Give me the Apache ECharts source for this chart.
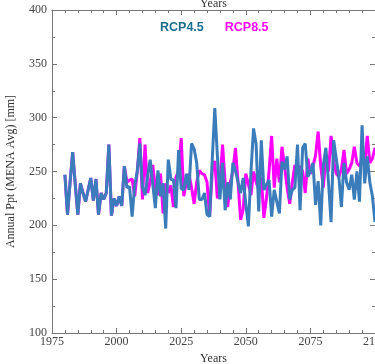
<!DOCTYPE html>
<html><head><meta charset="utf-8">
<script src="https://cdn.jsdelivr.net/npm/echarts@6/dist/echarts.min.js"></script>
<style>html,body{margin:0;padding:0;background:#fff}#c{width:375px;height:364px}</style>
</head><body><div id="c"></div>
<script>
const years = [];
for (let y = 1980; y <= 2100; y++) years.push(y);

const rcp45 = [
247,210,240,268,238,210,239,230,222,233,
244,223,243,210,230,224,230,275,209,225,
218,227,218,255,235,236,208,237,250,276,
236,228,245,261,238,216,251,227,239,197,
261,243,242,216,270,234,233,248,233,276,
271,258,224,224,230,210,208,260,309,265,
224,258,214,240,224,258,251,240,230,244,
220,199,250,290,275,213,279,233,238,242,
208,233,222,211,259,252,264,224,233,235,
275,214,272,276,245,250,258,219,241,200,
256,272,240,203,279,262,245,217,258,240,
233,247,224,250,222,293,239,264,240,227,
203];

const rcp85 = [
247,210,240,268,238,210,239,230,222,233,
244,223,243,210,230,224,230,275,209,225,
218,227,218,255,240,242,243,227,250,281,
224,275,230,240,256,235,228,248,211,239,
230,237,217,245,250,281,227,240,248,235,
220,240,251,248,247,240,208,250,260,225,
240,275,240,217,240,250,272,240,205,215,
248,238,228,250,240,233,245,207,225,250,
283,235,262,240,273,255,235,220,240,256,
250,255,250,230,262,248,255,265,287,255,
235,265,250,283,260,248,245,252,270,248,
252,258,273,258,255,262,256,283,258,262,
272];

const seriesNames = ['RCP4.5', 'RCP8.5'];
const xTicks = [1975, 2000, 2025, 2050, 2075, 2100];

const chart = echarts.init(document.getElementById('c'));
const serif = '"Liberation Serif", "DejaVu Serif", serif';
const axisCommon = {
  axisLine: {show: true, lineStyle: {color: '#777', width: 1}},
  axisTick: {show: true, inside: true, length: 5, lineStyle: {color: '#777'}},
  minorTick: {show: true, splitNumber: 5, length: 3, lineStyle: {color: '#777'}},
  splitLine: {show: false}
};
chart.setOption({
  animation: false,
  backgroundColor: '#fff',
  grid: {left: 52, right: 0, top: 10, bottom: 31, containLabel: false, outerBoundsMode: 'none'},
  legend: {
    top: 16, left: 150, itemGap: 16, itemWidth: 0, itemHeight: 0,
    selectedMode: false,
    data: [
      {name: 'RCP4.5', icon: 'none', textStyle: {color: '#1b6f8e'}},
      {name: 'RCP8.5', icon: 'none', textStyle: {color: '#ff00ff'}}
    ],
    textStyle: {fontFamily: '"Liberation Sans", Arial, sans-serif', fontWeight: 'bold', fontSize: 12.5}
  },
  xAxis: [
    Object.assign({}, axisCommon, {
      type: 'value', min: 1975, max: 2100, interval: 25, position: 'bottom',
      name: 'Years', nameLocation: 'middle', nameGap: 20,
      nameTextStyle: {fontFamily: serif, fontSize: 12, color: '#333'},
      axisLabel: {fontFamily: serif, fontSize: 12, color: '#444', margin: 3,
        formatter: v => xTicks.includes(v) ? String(v) : ''}
    }),
    Object.assign({}, axisCommon, {
      type: 'value', min: 1975, max: 2100, interval: 25, position: 'top',
      name: 'Years', nameLocation: 'middle', nameGap: 0,
      nameTextStyle: {fontFamily: serif, fontSize: 12, color: '#333'},
      axisLabel: {show: false}
    })
  ],
  yAxis: [
    Object.assign({}, axisCommon, {
      type: 'value', min: 100, max: 400, interval: 50, position: 'left',
      minorTick: {show: true, splitNumber: 2, length: 3, lineStyle: {color: '#777'}},
      name: 'Annual Ppt (MENA Avg) [mm]', nameLocation: 'middle', nameGap: 35,
      nameTextStyle: {fontFamily: serif, fontSize: 12, color: '#333'},
      axisLabel: {fontFamily: serif, fontSize: 12, color: '#444', margin: 5}
    }),
    Object.assign({}, axisCommon, {
      type: 'value', min: 100, max: 400, interval: 50, position: 'right',
      minorTick: {show: true, splitNumber: 2, length: 3, lineStyle: {color: '#777'}},
      axisLabel: {show: false}
    })
  ],
  series: [
    {
      name: 'RCP8.5', type: 'line', showSymbol: false, symbol: 'none', z: 2,
      data: years.map((y, i) => [y, rcp85[i]]),
      lineStyle: {color: '#ff00ff', width: 3}, itemStyle: {color: '#ff00ff'}
    },
    {
      name: 'RCP4.5', type: 'line', showSymbol: false, symbol: 'none', z: 3,
      data: years.map((y, i) => [y, rcp45[i]]),
      lineStyle: {color: '#3a7dba', width: 3}, itemStyle: {color: '#3a7dba'}
    }
  ]
});
</script>
</body></html>
